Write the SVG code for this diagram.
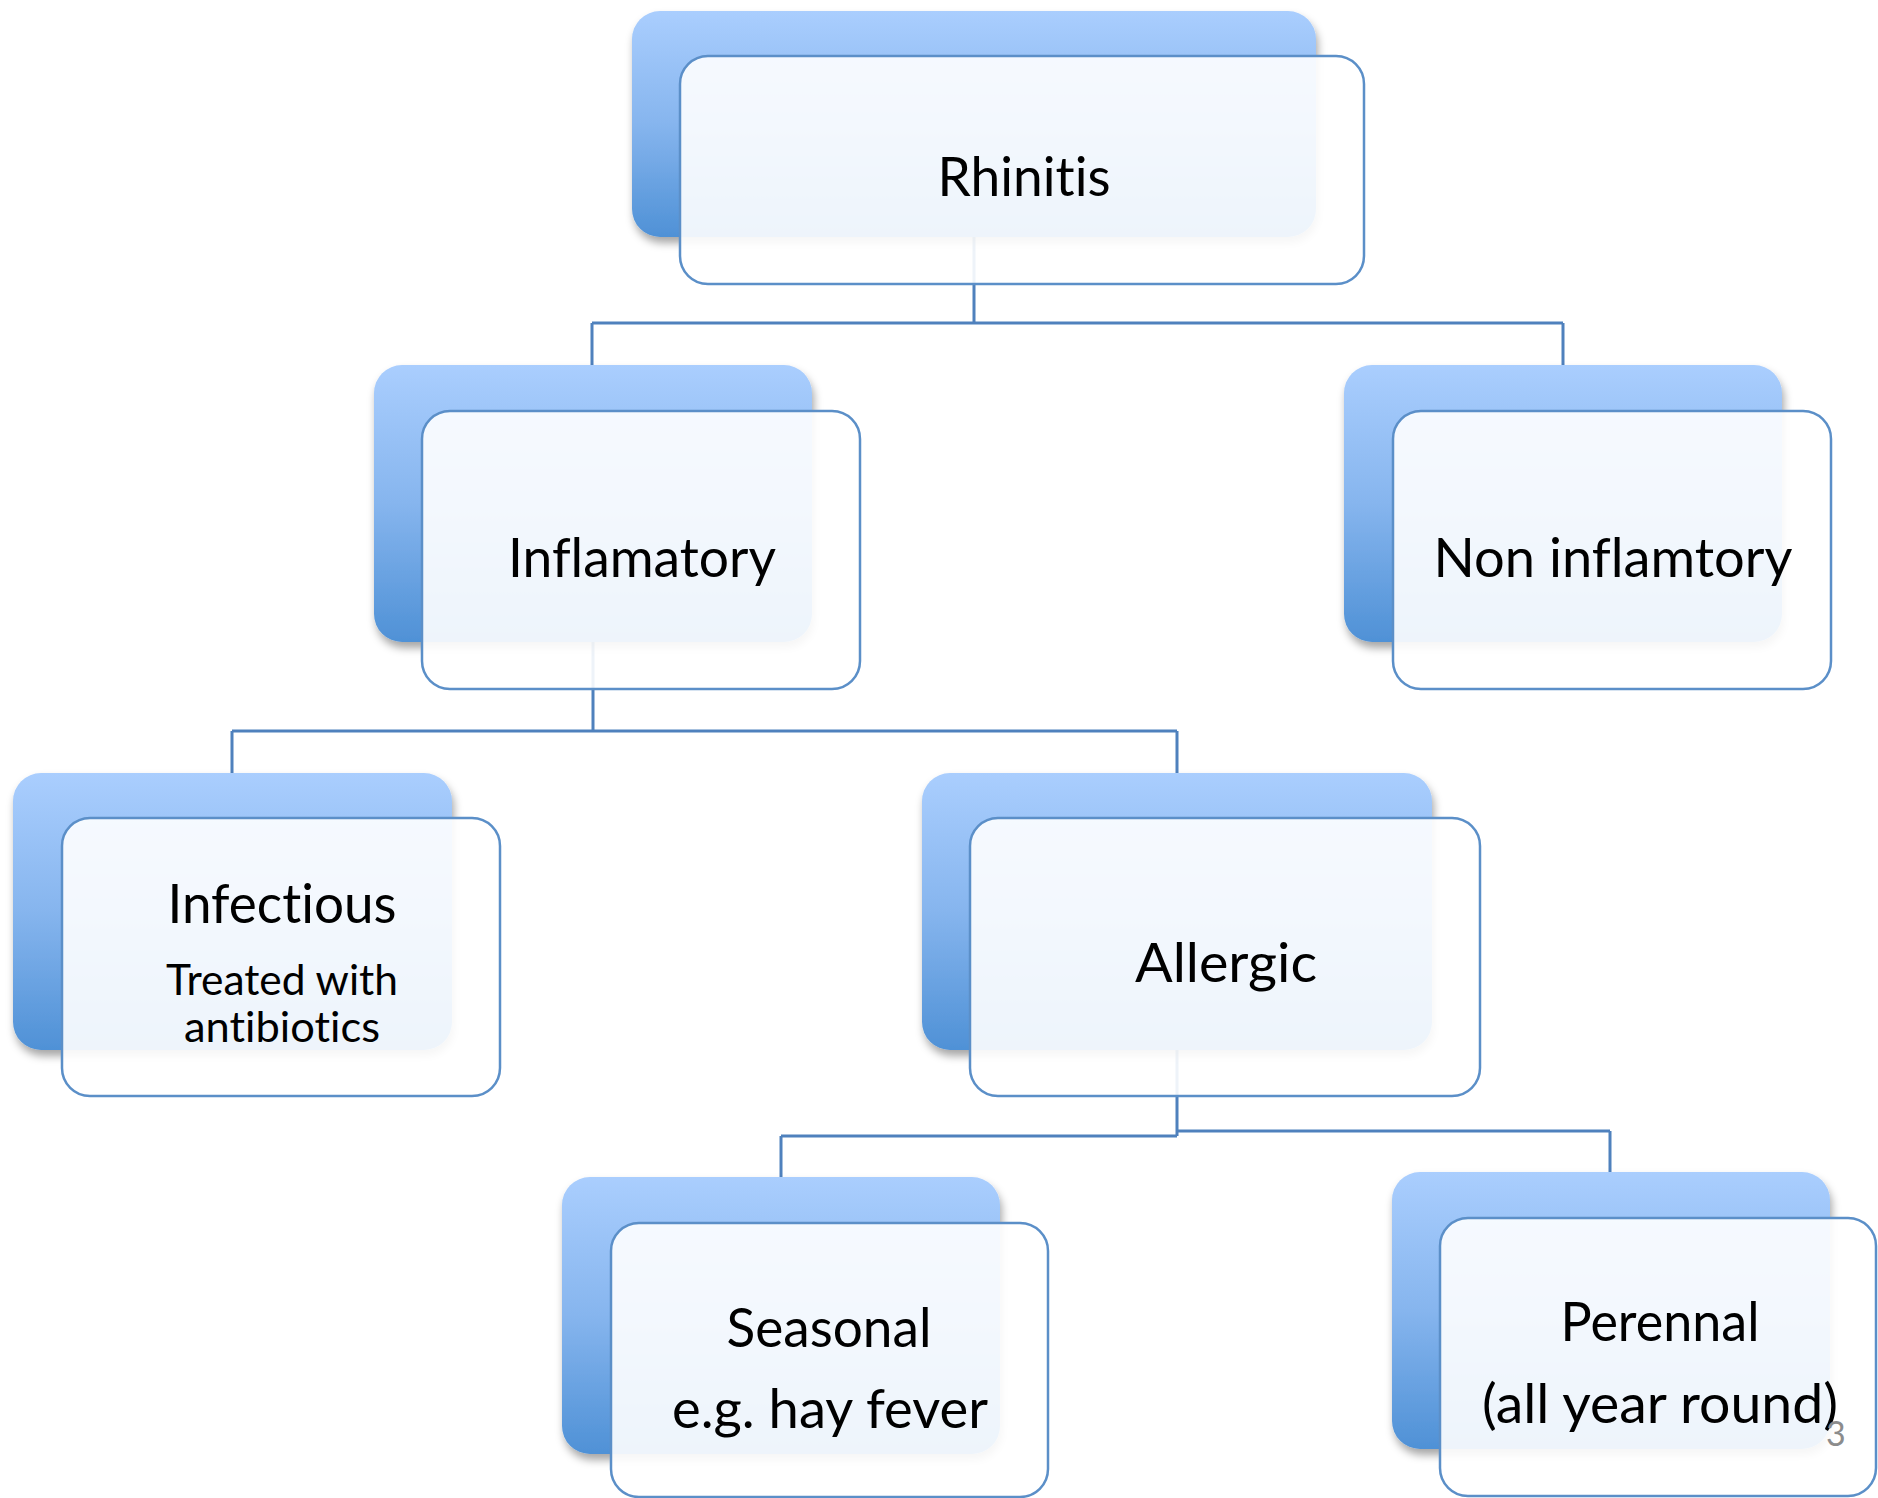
<svg xmlns="http://www.w3.org/2000/svg" width="1878" height="1498" viewBox="0 0 1878 1498">
<style>
.back{fill:url(#blueGrad);filter:url(#shadow)}
.front{fill:#ffffff;fill-opacity:0.9;stroke:#5b8fc8;stroke-width:2.5}
.conn{fill:none;stroke:#4f81bd;stroke-width:3}
.lbl{font-family:Lato,"Open Sans","Liberation Sans",sans-serif;font-size:54px;fill:#000;text-anchor:middle;font-variant-ligatures:none;font-feature-settings:"liga" 0,"clig" 0}
.sub{font-size:42px}
.pg{font-family:Lato,"Liberation Sans",sans-serif;font-size:34px;fill:#8c8c8c}
</style>
<defs>
<linearGradient id="blueGrad" x1="0" y1="0" x2="0" y2="1">
<stop offset="0" stop-color="#aacefe"/>
<stop offset="0.5" stop-color="#86b5ee"/>
<stop offset="1" stop-color="#4f91d6"/>
</linearGradient>
<filter id="shadow" x="-10%" y="-10%" width="125%" height="130%">
<feDropShadow dx="2" dy="6" stdDeviation="4" flood-color="#000" flood-opacity="0.35"/>
</filter>
</defs>
<rect width="1878" height="1498" fill="#fff"/>
<g id="connectors">
<path class="conn" d="M974 237V323M592 323H1563M592 323V365M1563 323V365"/>
<path class="conn" d="M593 642V731M232 731H1177M232 731V773M1177 731V773"/>
<path class="conn" d="M1177 1050V1136M781 1136H1177M781 1136V1177M1177 1131H1610M1610 1131V1172"/>
</g>
<g id="rhinitis">
<rect class="back" x="632" y="11" width="684" height="226" rx="28"/>
<rect class="front" x="680" y="56" width="684" height="228" rx="28"/>
<text class="lbl" x="1024" y="196" textLength="173" lengthAdjust="spacingAndGlyphs">Rhinitis</text>
</g>
<g id="inflamatory">
<rect class="back" x="374" y="365" width="438" height="277" rx="28"/>
<rect class="front" x="422" y="411" width="438" height="278" rx="28"/>
<text class="lbl" x="642" y="577" textLength="268" lengthAdjust="spacingAndGlyphs">Inflamatory</text>
</g>
<g id="non-inflamtory">
<rect class="back" x="1344" y="365" width="438" height="277" rx="28"/>
<rect class="front" x="1393" y="411" width="438" height="278" rx="28"/>
<text class="lbl" x="1613" y="577" textLength="359" lengthAdjust="spacingAndGlyphs">Non inflamtory</text>
</g>
<g id="infectious">
<rect class="back" x="13" y="773" width="439" height="277" rx="28"/>
<rect class="front" x="62" y="818" width="438" height="278" rx="28"/>
<text class="lbl" x="282" y="923" textLength="229" lengthAdjust="spacingAndGlyphs">Infectious</text>
<text class="lbl sub" x="282" y="995" textLength="232" lengthAdjust="spacingAndGlyphs">Treated with</text>
<text class="lbl sub" x="282" y="1042" textLength="196" lengthAdjust="spacingAndGlyphs">antibiotics</text>
</g>
<g id="allergic">
<rect class="back" x="922" y="773" width="510" height="277" rx="28"/>
<rect class="front" x="970" y="818" width="510" height="278" rx="28"/>
<text class="lbl" x="1226" y="982" textLength="182" lengthAdjust="spacingAndGlyphs">Allergic</text>
</g>
<g id="seasonal">
<rect class="back" x="562" y="1177" width="438" height="277" rx="28"/>
<rect class="front" x="611" y="1223" width="437" height="274" rx="28"/>
<text class="lbl" x="829" y="1347" textLength="205" lengthAdjust="spacingAndGlyphs">Seasonal</text>
<text class="lbl" x="830" y="1428" textLength="316" lengthAdjust="spacingAndGlyphs">e.g. hay fever</text>
</g>
<g id="perennal">
<rect class="back" x="1392" y="1172" width="438" height="277" rx="28"/>
<rect class="front" x="1440" y="1218" width="436" height="278" rx="28"/>
<text class="lbl" x="1660" y="1341" textLength="199" lengthAdjust="spacingAndGlyphs">Perennal</text>
<text class="lbl" x="1660" y="1423" textLength="356" lengthAdjust="spacingAndGlyphs">(all year round)</text>
</g>
<text class="pg" x="1826" y="1446">3</text>
</svg>
